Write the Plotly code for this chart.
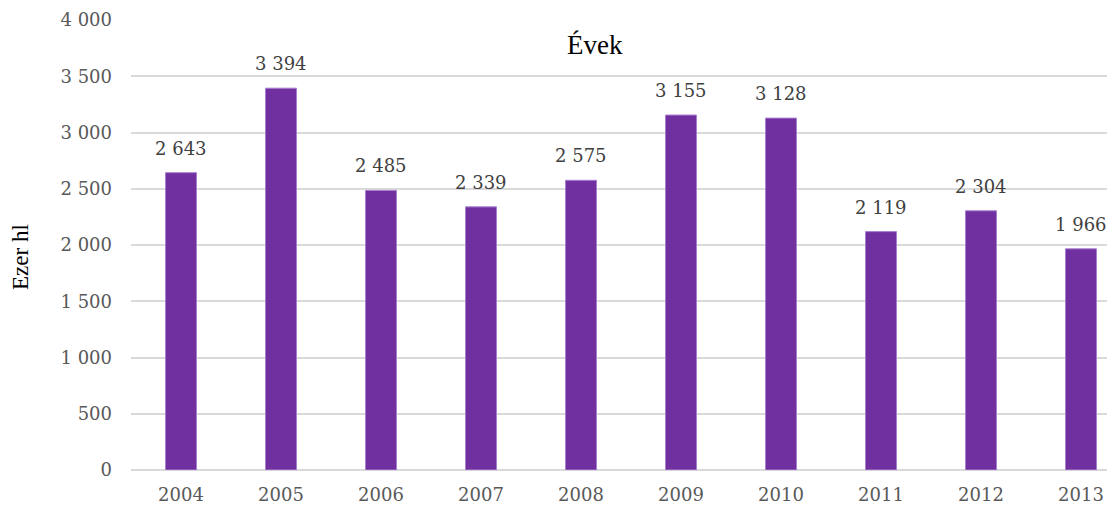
import plotly.graph_objects as go

years = ["2004", "2005", "2006", "2007", "2008", "2009", "2010", "2011", "2012", "2013"]
values = [2643, 3394, 2485, 2339, 2575, 3155, 3128, 2119, 2304, 1966]
y_ticks = [0, 500, 1000, 1500, 2000, 2500, 3000, 3500, 4000]
x_title = "Évek"
y_title = "Ezer hl"

OFF = 8  # page body margin
W, H = 1115 - OFF, 509 - OFF
L, R, T, B = 131 - OFF, 0, 20 - OFF, 39
pw = W - L - R
ph = H - T - B


def px_x(p):
    return (p - 131) / pw


def px_y(p):
    return (470 - p) / ph


fig = go.Figure()
fig.add_trace(go.Bar(
    x=years, y=values, width=0.31,
    marker=dict(color="#7030A0", line=dict(color="#a77fd0", width=1)),
    hoverinfo="skip",
))

for i, v in enumerate(values):
    fig.add_annotation(
        x=i, y=v, xref="x", yref="y", text=f"{v:,}".replace(",", " "),
        showarrow=False, yanchor="bottom", yshift=12,
        font=dict(family="DejaVu Serif", size=18, color="#404040"),
    )

# white box behind the axis title (breaks the top gridline)
fig.add_shape(
    type="rect", xref="paper", yref="paper",
    x0=px_x(537), x1=px_x(652), y0=px_y(73), y1=px_y(14),
    fillcolor="white", line=dict(width=0), layer="above",
)
fig.add_annotation(
    x=px_x(594.5), y=px_y(45), xref="paper", yref="paper",
    text=x_title, showarrow=False, xanchor="center", yanchor="middle",
    font=dict(family="Liberation Serif", size=27, color="black"),
)
fig.add_annotation(
    x=px_x(21), y=px_y(257), xref="paper", yref="paper",
    text=y_title, showarrow=False, textangle=-90, xanchor="center", yanchor="middle",
    font=dict(family="Liberation Serif", size=23, color="black"),
)

fig.update_layout(
    width=W, height=H,
    margin=dict(l=L, r=R, t=T, b=B),
    plot_bgcolor="white", paper_bgcolor="white",
    showlegend=False,
    separators=". ",
    bargap=0.69,
    xaxis=dict(
        type="category",
        range=[-0.5, -0.5 + pw / 100.0], showgrid=False, zeroline=False, showline=False,
        tickfont=dict(family="DejaVu Serif", size=18, color="#595959"),
        ticks="", ticklabelstandoff=12, fixedrange=True,
    ),
    yaxis=dict(
        range=[0, 4000], tickvals=y_ticks, tickformat=",d",
        showgrid=True, gridcolor="#d9d9d9", gridwidth=2,
        zeroline=True, zerolinecolor="#d9d9d9", zerolinewidth=2, showline=False,
        tickfont=dict(family="DejaVu Serif", size=18, color="#595959"),
        ticks="", ticklabelstandoff=18, fixedrange=True,
    ),
)

fig.write_html("out.html")
